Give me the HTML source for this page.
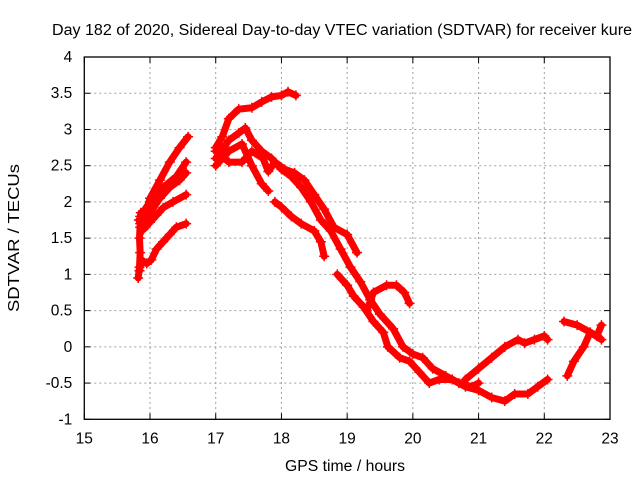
<!DOCTYPE html>
<html><head><meta charset="utf-8"><style>
body{margin:0;background:#fff}
svg text{font-family:"Liberation Sans",sans-serif;font-size:15.5px;fill:#000}
</style></head><body>
<svg width="640" height="480" xmlns="http://www.w3.org/2000/svg">
<text x="342" y="35" text-anchor="middle" textLength="580" lengthAdjust="spacingAndGlyphs">Day 182 of 2020, Sidereal Day-to-day VTEC variation (SDTVAR) for receiver kure</text>
<g id="grid"></g>
<g id="axes"></g>
<g id="series"></g>
<rect x="84.3" y="57" width="525.7" height="362.3" fill="none" stroke="#000" stroke-width="1.3"/>
<text x="345" y="471" text-anchor="middle" textLength="120" lengthAdjust="spacingAndGlyphs">GPS time / hours</text>
<text transform="translate(19,238) rotate(-90)" text-anchor="middle" textLength="148" lengthAdjust="spacingAndGlyphs">SDTVAR / TECUs</text>
</svg>
<script>
const xTicks=[15,16,17,18,19,20,21,22,23];
const yTicks=[-1,-0.5,0,0.5,1,1.5,2,2.5,3,3.5,4];
const trackA=[[15.82,0.95],[15.84,1.1],[15.85,1.3],[15.84,1.5],[15.85,1.7],[15.86,1.85]];
const trackB=[[15.84,1.05],[15.87,1.2],[15.95,1.15],[16.02,1.2],[16.1,1.35],[16.2,1.45],[16.3,1.55],[16.4,1.65],[16.55,1.7]];
const trackC=[[15.83,1.75],[15.9,1.62],[16.0,1.72],[16.1,1.82],[16.2,1.92],[16.35,2.0],[16.55,2.1]];
const trackD=[[15.85,1.65],[16.0,1.85],[16.15,2.05],[16.3,2.2],[16.45,2.3],[16.55,2.4]];
const trackE=[[15.85,1.8],[16.0,2.0],[16.2,2.2],[16.4,2.35],[16.55,2.55]];
const trackF=[[15.9,1.75],[16.0,2.05],[16.15,2.3],[16.3,2.55],[16.45,2.75],[16.58,2.9]];
const trackG=[[17.0,2.75],[17.1,2.9],[17.2,3.15],[17.35,3.28],[17.55,3.3],[17.7,3.38],[17.85,3.45],[18.0,3.47],[18.1,3.52],[18.22,3.47]];
const trackH=[[17.0,2.6],[17.2,2.85],[17.35,2.95],[17.45,3.02],[17.55,2.85],[17.7,2.7],[17.85,2.6],[18.0,2.45],[18.15,2.35],[18.3,2.2],[18.45,2.0],[18.6,1.75],[18.75,1.6],[18.9,1.35],[19.05,1.1],[19.2,0.9],[19.35,0.65],[19.5,0.45],[19.7,0.25],[19.85,0.0],[20.0,-0.1],[20.15,-0.15],[20.3,-0.3],[20.5,-0.4],[20.7,-0.5],[20.9,-0.55],[21.0,-0.5]];
const trackI=[[17.0,2.7],[17.2,2.55],[17.4,2.55],[17.55,2.7],[17.72,2.6],[17.8,2.42],[17.9,2.55],[18.05,2.45],[18.2,2.4],[18.35,2.3],[18.5,2.1],[18.65,1.9],[18.8,1.65],[19.0,1.55],[19.15,1.3]];
const trackJ=[[17.0,2.5],[17.2,2.7],[17.4,2.8],[17.55,2.5],[17.7,2.25],[17.8,2.15]];
const trackK=[[17.9,2.0],[18.0,1.93],[18.15,1.8],[18.3,1.7],[18.5,1.6],[18.6,1.45],[18.65,1.25]];
const trackL=[[18.85,1.0],[19.0,0.85],[19.1,0.7],[19.25,0.55],[19.4,0.35],[19.55,0.2],[19.62,0.0],[19.8,-0.15],[19.95,-0.2],[20.1,-0.35],[20.25,-0.5],[20.4,-0.45],[20.6,-0.45],[20.8,-0.55],[21.0,-0.6],[21.2,-0.7],[21.4,-0.75],[21.55,-0.65],[21.75,-0.65],[21.9,-0.55],[22.05,-0.45]];
const trackM=[[19.3,0.5],[19.4,0.75],[19.6,0.85],[19.75,0.85],[19.87,0.75],[19.95,0.6]];
const trackN=[[20.8,-0.45],[21.0,-0.3],[21.2,-0.15],[21.4,0.0],[21.6,0.1],[21.7,0.05],[21.85,0.1],[22.0,0.15],[22.05,0.1]];
const trackO=[[22.35,-0.4],[22.45,-0.2],[22.6,0.0],[22.7,0.2],[22.8,0.15],[22.87,0.3]];
const trackP=[[22.3,0.35],[22.5,0.3],[22.7,0.2],[22.87,0.1]];
const tracks=[trackA,trackB,trackC,trackD,trackE,trackF,trackG,trackH,trackI,trackJ,trackK,trackL,trackM,trackN,trackO,trackP];

const X0=84.3,X1=610,Y0=419.3,Y1=57;
function xs(h){return X0+(h-15)/8*(X1-X0);}
function ys(v){return Y0-(v+1)/5*(Y0-Y1);}
const NS='http://www.w3.org/2000/svg';
function mk(t,a,p){const e=document.createElementNS(NS,t);for(const k in a)e.setAttribute(k,a[k]);p.appendChild(e);return e;}
const grid=document.getElementById('grid'),axes=document.getElementById('axes'),ser=document.getElementById('series');
xTicks.forEach(t=>{const x=xs(t);
 if(t>15&&t<23){const l=mk('line',{x1:x,x2:x,y1:Y1,y2:Y0,stroke:'#a0a0a0','stroke-dasharray':'2,3'},grid);
 
 }
 mk('line',{x1:x,x2:x,y1:Y0,y2:Y0-6,stroke:'#000'},axes);
 mk('line',{x1:x,x2:x,y1:Y1,y2:Y1+6,stroke:'#000'},axes);
 const tx=mk('text',{x:x,y:Y0+24,'text-anchor':'middle'},axes);tx.textContent=t;
 
 
});
yTicks.forEach(t=>{const y=ys(t);
 if(t>-1&&t<4){const l=mk('line',{x1:X0,x2:X1,y1:y,y2:y,stroke:'#a0a0a0','stroke-dasharray':'2,3'},grid);
 
 }
 mk('line',{x1:X0,x2:X0+6,y1:y,y2:y,stroke:'#000'},axes);
 mk('line',{x1:X1,x2:X1-6,y1:y,y2:y,stroke:'#000'},axes);
 const tx=mk('text',{x:X0-12,y:y+5,'text-anchor':'end'},axes);tx.textContent=t;
 
 
});
tracks.forEach(tr=>{
 const pl=mk('polyline',{points:tr.map(p=>xs(p[0])+','+ys(p[1])).join(' '),fill:'none',stroke:'#ff0000','stroke-width':7,'stroke-linejoin':'round','stroke-linecap':'round'},ser);
 
 
 tr.forEach(p=>{const x=xs(p[0]),y=ys(p[1]);
  const m=mk('path',{d:`M${x-5},${y}H${x+5}M${x},${y-5}V${y+5}`,stroke:'#ff0000','stroke-width':1.5},ser);
  
  
 });
});
</script>
</body></html>
